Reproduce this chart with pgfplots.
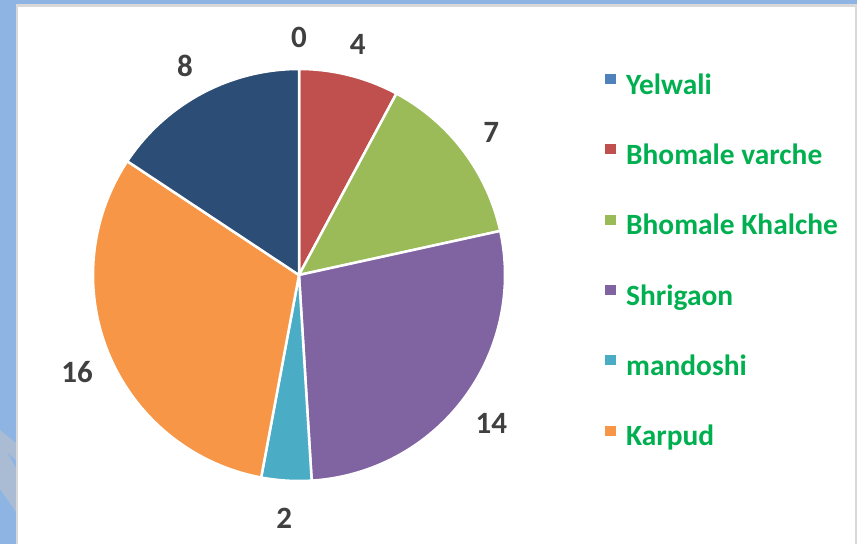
\documentclass[border=0pt]{standalone}
\usepackage{fontspec}
\setmainfont{Carlito}
\usepackage{pgfplots}
\pgfplotsset{compat=1.18}
\usetikzlibrary{calc}

\definecolor{frameblue}{RGB}{142,180,227}
\definecolor{framegray}{RGB}{216,216,216}
\definecolor{decoblue}{RGB}{170,188,212}
\definecolor{cY}{RGB}{79,129,189}
\definecolor{cR}{RGB}{192,80,77}
\definecolor{cG}{RGB}{155,187,89}
\definecolor{cP}{RGB}{128,100,162}
\definecolor{cT}{RGB}{75,172,198}
\definecolor{cO}{RGB}{247,150,70}
\definecolor{cN}{RGB}{44,77,117}
\definecolor{labgray}{RGB}{64,64,64}
\definecolor{leggreen}{RGB}{0,176,80}

\newcommand\labfont{\fontsize{31}{36}\selectfont\bfseries}
\newcommand\legfont{\fontsize{29.4}{34}\selectfont\bfseries}

\begin{document}
\begin{tikzpicture}
\begin{axis}[
  hide axis, scale only axis, clip=false,
  width=857pt, height=544pt,
  xmin=0, xmax=857, ymin=0, ymax=544,
  legend image code/.code={\path[#1, draw=none] (0pt,4pt) rectangle (11pt,14pt);},
  legend style={
    at={(axis cs:602,472)}, anchor=north west,
    draw=none, fill=none, text=leggreen, font=\legfont,
    cells={anchor=west},
    nodes={text height=18pt, text depth=6pt, inner sep=0pt},
    row sep=44.3pt,
    /tikz/every odd column/.append style={column sep=10pt}},
]
% frame
\fill[frameblue] (axis cs:0,0) rectangle (axis cs:857,544);
\fill[decoblue] (axis cs:0,114) -- (axis cs:16,101) -- (axis cs:16,84) -- (axis cs:7,92)
  -- (axis cs:16,76) -- (axis cs:16,32) -- (axis cs:0,55) -- cycle;
\fill[framegray] (axis cs:16,0) rectangle (axis cs:857,540);
\fill[white] (axis cs:18,0) rectangle (axis cs:855,537);

% pie: values clockwise from the top
\xdef\startang{90}
\foreach \v/\c in {0/cY,4/cR,7/cG,14/cP,2/cT,16/cO,8/cN} {
  \pgfmathsetmacro\a{\startang}
  \pgfmathsetmacro\b{\a-\v*360/51}
  \edef\temp{\noexpand\fill[\c, draw=white, line width=2.5pt, line join=round]
      (axis cs:299,269) -- ++(\a:206pt) arc[start angle=\a, end angle=\b, radius=206pt] -- cycle;}
  \temp
  \global\let\startang\b
}
% data labels outside the slices
\xdef\startang{90}
\foreach \v in {0,4,7,14,2,16,8} {
  \pgfmathsetmacro\a{\startang}
  \pgfmathsetmacro\b{\a-\v*360/51}
  \pgfmathsetmacro\m{(\a+\b)/2}
  \edef\temp{\noexpand\node[text=labgray, font=\noexpand\labfont, inner sep=0pt]
      at ($(axis cs:299,266)+(\m:241pt)$) {\v};}
  \temp
  \global\let\startang\b
}

\addlegendimage{fill=cY}\addlegendentry{Yelwali}
\addlegendimage{fill=cR}\addlegendentry{Bhomale varche}
\addlegendimage{fill=cG}\addlegendentry{Bhomale Khalche}
\addlegendimage{fill=cP}\addlegendentry{Shrigaon}
\addlegendimage{fill=cT}\addlegendentry{mandoshi}
\addlegendimage{fill=cO}\addlegendentry{Karpud}
\end{axis}
\end{tikzpicture}
\end{document}
